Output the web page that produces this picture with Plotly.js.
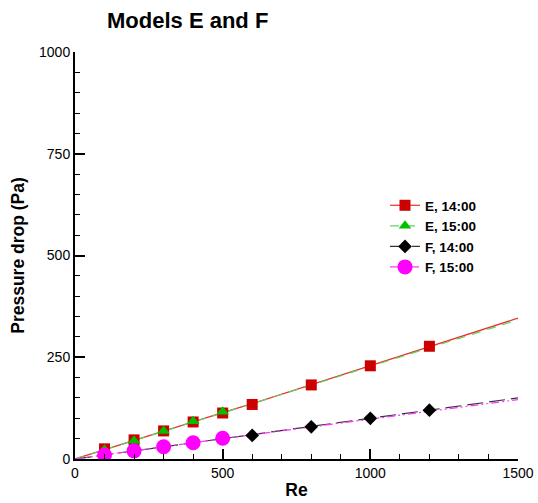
<!DOCTYPE html>
<html>
<head>
<meta charset="utf-8">
<script src="https://cdn.plot.ly/plotly-3.0.1.min.js"></script>
<style>html,body{margin:0;padding:0;background:#fff;}#chart{width:538px;height:503px;}</style>
</head>
<body>
<div id="chart"></div>
<script>
// Fitted lines (Re from 0 to 1500 through the measured points)
const e14LineX = [0, 100, 200, 300, 400, 500, 600, 800, 1000, 1200, 1500];
const e14LineY = [0, 23, 46, 69, 91, 114, 136, 183, 229, 276, 346];
const e15LineX = [0, 100, 200, 300, 400, 500, 1500];
const e15LineY = [0, 23, 45, 68, 91, 113, 342];
const f14LineX = [0, 600, 800, 1000, 1200, 1500];
const f14LineY = [0, 59, 79, 100, 120, 150];
const f15LineX = [0, 100, 200, 300, 400, 500, 1500];
const f15LineY = [0, 10, 20, 30, 40, 50, 146];

// Measured points (markers)
const e14X = [100, 200, 300, 400, 500, 600, 800, 1000, 1200];
const e14Y = [25, 47, 69, 91, 113, 134, 182, 229, 277];
const e15X = [100, 200, 300, 400, 500];
const e15Y = [23, 45, 69, 93, 116];
const f14X = [600, 800, 1000, 1200];
const f14Y = [58, 79, 100, 120];
const f15X = [100, 200, 300, 400, 500];
const f15Y = [10, 20, 30, 40, 51];

const seriesNames = ['E, 14:00', 'E, 15:00', 'F, 14:00', 'F, 15:00'];
const xTicks = [0, 500, 1000, 1500];
const yTicks = [0, 250, 500, 750, 1000];

const FONT = 'Arial, "Liberation Sans", sans-serif';

const styles = [
  {line: {color: '#e8302a', width: 1.2, dash: 'solid'},
   marker: {symbol: 'square', size: 11, color: '#cc0000', opacity: 1, line: {width: 0}}},
  {line: {color: '#5fd35f', width: 1.2, dash: '9px,7px'},
   marker: {symbol: 'triangle-up', size: 11, color: '#00c000', opacity: 1, line: {width: 0}}},
  {line: {color: '#333333', width: 1.2, dash: '16px,6px'},
   marker: {symbol: 'diamond', size: 10.5, color: '#000000', opacity: 1, line: {width: 0}}},
  {line: {color: '#ff33ff', width: 1.2, dash: '8px,3px,2px,3px,2px,3px'},
   marker: {symbol: 'circle', size: 15, color: '#ff00ff', opacity: 1, line: {width: 0}}}
];

const lineData = [[e14LineX, e14LineY], [e15LineX, e15LineY], [f14LineX, f14LineY], [f15LineX, f15LineY]];
const markData = [[e14X, e14Y], [e15X, e15Y], [f14X, f14Y], [f15X, f15Y]];

const traces = [];
for (let i = 0; i < 4; i++) {
  traces.push({x: lineData[i][0], y: lineData[i][1], mode: 'lines', showlegend: false,
               hoverinfo: 'skip', line: styles[i].line});
}
for (let i = 0; i < 4; i++) {
  traces.push({x: markData[i][0], y: markData[i][1], mode: 'markers', showlegend: false,
               marker: styles[i].marker});
}
// legend entries (line + marker sample)
for (let i = 0; i < 4; i++) {
  traces.push({x: [null], y: [null], mode: 'lines+markers', name: seriesNames[i],
               line: styles[i].line, marker: styles[i].marker});
}

const layout = {
  width: 538, height: 503,
  margin: {l: 75, r: 20, t: 52, b: 44},
  paper_bgcolor: '#ffffff', plot_bgcolor: '#ffffff',
  font: {family: FONT, color: '#000000', size: 14},
  showlegend: true,
  title: {text: '<b>Models E and F</b>', font: {family: FONT, size: 22, color: '#000'},
          x: 107/538, xref: 'container', xanchor: 'left', y: 1 - 20/503, yref: 'container', yanchor: 'middle'},
  xaxis: {
    range: [0, 1500], tickvals: xTicks, ticktext: xTicks.map(String),
    ticks: 'inside', ticklen: 10, tickwidth: 2, tickcolor: '#000',
    showline: true, linewidth: 2, linecolor: '#000', showgrid: false, zeroline: false,
    minor: {dtick: 100, ticks: 'inside', ticklen: 5, tickwidth: 1, tickcolor: '#000', showgrid: false},
    tickfont: {family: FONT, size: 14},
    title: {text: '<b>Re</b>', font: {family: FONT, size: 17.5}, standoff: 4}
  },
  yaxis: {
    range: [0, 1000], tickvals: yTicks, ticktext: yTicks.map(String),
    ticks: 'inside', ticklen: 10, tickwidth: 2, tickcolor: '#000',
    showline: true, linewidth: 2, linecolor: '#000', showgrid: false, zeroline: false,
    minor: {dtick: 50, ticks: 'inside', ticklen: 5, tickwidth: 1, tickcolor: '#000', showgrid: false},
    tickfont: {family: FONT, size: 14},
    title: {text: '<b>Pressure drop (Pa)</b>', font: {family: FONT, size: 17.5}, standoff: 10}
  },
  legend: {
    x: (385 - 75) / 443, y: (459 - 190) / 407, xanchor: 'left', yanchor: 'top',
    bgcolor: 'rgba(0,0,0,0)', borderwidth: 0,
    font: {family: FONT, size: 13.5, color: '#000', weight: 'bold'},
    tracegroupgap: 0
  }
};

Plotly.newPlot('chart', traces, layout, {displayModeBar: false, staticPlot: true});
</script>
</body>
</html>
